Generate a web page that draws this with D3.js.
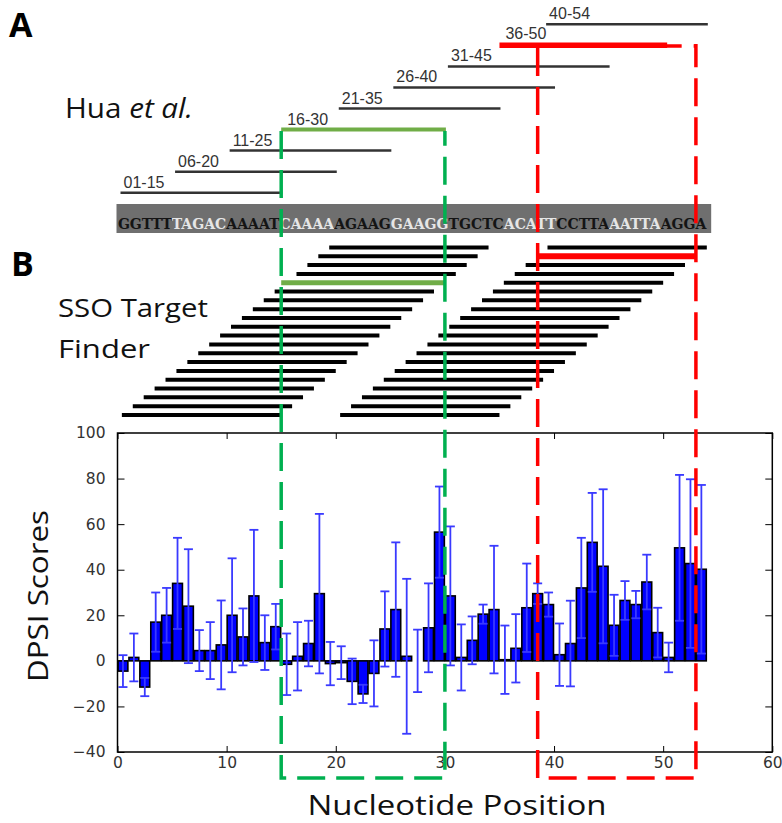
<!DOCTYPE html>
<html>
<head>
<meta charset="utf-8">
<script src="https://cdn.jsdelivr.net/npm/d3@7/dist/d3.min.js"></script>
<style>
body { margin: 0; background: #fff; }
svg { display: block; }
</style>
</head>
<body>
<div id="chart-area"></div>
<script>
// ---- values ----
var sequence = "GGTTTTAGACAAAATCAAAAAGAAGGAAGGTGCTCACATTCCTTAAATTAAGGA";

// Hua et al. oligos (1-based nucleotide ranges)
var huaLabels = ["01-15", "06-20", "11-25", "16-30", "21-35", "26-40", "31-45", "36-50", "40-54"];
var huaStarts = [1, 6, 11, 16, 21, 26, 31, 36, 40];
var huaEnds = [15, 20, 25, 30, 35, 40, 45, 50, 54];

// SSO Target Finder 15-mers, start nucleotide of each line (bottom row first)
var ssoLeftStarts = [1, 2, 3, 4, 5, 6, 7, 8, 9, 10, 11, 12, 13, 14, 15, 16, 17, 18, 19, 20];
var ssoRightStarts = [21, 22, 23, 24, 25, 26, 27, 28, 29, 30, 31, 32, 33, 34, 35, 36, 37, 38, 39, 40];
var ssoLength = 15;

// highlighted windows (nucleotide axis)
var greenBox = [15, 30];
var redBox = [38.5, 53];

// DPSI scores per position, with error bars
var dpsi = [-4.5, 1.5, -11.5, 17, 20, 34, 24, 4.5, 4.5, 7,
            20, 10.5, 28.5, 8, 15, -1.5, 2, 7.6, 29.5, -1.2,
            -0.8, -9, -14.5, -5.5, 14, 22.5, 2, 0, 14.5, 56.5,
            28.5, 1.5, 9, 20.5, 22.5, 0.5, 5.5, 23.3, 29.5, 24.7,
            2.7, 7.6, 32, 52, 41.5, 15.6, 26.5, 24.7, 34.6, 12.4,
            1.5, 49.6, 42.7, 40.2];
var dpsiErr = [7, 10.5, 4, 13, 12, 20, 25, 9, 12.5, 19.5,
               25, 12.5, 29, 12, 10, 13.5, 15, 10, 35, 9.5,
               7.2, 10, 4, 14.5, 16.5, 29.5, 34, 13.7, 19.5, 20,
               30.5, 14.5, 10.5, 4.2, 28, 15, 15, 19.4, 4.5, 5.3,
               13.7, 18.8, 22, 21.7, 33.8, 13.4, 8.5, 6, 12, 10.9,
               6.5, 32, 37, 37];

var xTicks = [0, 10, 20, 30, 40, 50, 60];
var yTicks = [-40, -20, 0, 20, 40, 60, 80, 100];

// ---- layout ----
var svg = d3.select("#chart-area")
    .append("svg")
        .attr("width", 782)
        .attr("height", 823);

// one nucleotide scale shared by panel A, the SSO lines and the bar chart
var x = d3.scaleLinear()
    .domain([0, 60])
    .range([117.5, 772.3]);
var y = d3.scaleLinear()
    .domain([-40, 100])
    .range([752, 433]);

var sans = "'Open Sans', 'Noto Sans', sans-serif";

// panel letters
svg.append("text").attr("x", 9).attr("y", 37)
    .attr("font-family", sans).attr("font-weight", "bold").attr("font-size", "34px")
    .text("A");
svg.append("text").attr("x", 11).attr("y", 276)
    .attr("font-family", sans).attr("font-weight", "bold").attr("font-size", "34px")
    .text("B");

// side labels
var hua = svg.append("text").attr("x", 65).attr("y", 118)
    .attr("font-family", sans).attr("font-size", "27px").attr("fill", "#111")
    .attr("textLength", 128).attr("lengthAdjust", "spacingAndGlyphs");
hua.append("tspan").text("Hua ");
hua.append("tspan").attr("font-style", "italic").text("et al.");

svg.append("text").attr("x", 58).attr("y", 317)
    .attr("font-family", sans).attr("font-size", "26px").attr("fill", "#111")
    .attr("textLength", 150).attr("lengthAdjust", "spacingAndGlyphs")
    .text("SSO Target");
svg.append("text").attr("x", 58).attr("y", 358)
    .attr("font-family", sans).attr("font-size", "26px").attr("fill", "#111")
    .attr("textLength", 92).attr("lengthAdjust", "spacingAndGlyphs")
    .text("Finder");

// sequence strip
svg.append("rect")
    .attr("x", x(0) - 1)
    .attr("y", 204)
    .attr("width", x(54.4) - x(0) + 1)
    .attr("height", 29)
    .attr("fill", "#6f6f6f");

// whole sequence as one text, squeezed so each letter sits in its nucleotide cell;
// 5-nt groups alternate dark / light
var groups = [];
for (var s = 0; s < sequence.length; s += 5) groups.push(sequence.slice(s, s + 5));
var seqText = svg.append("text")
    .attr("x", x(0) + 0.4)
    .attr("y", 228.5)
    .attr("font-family", "'DejaVu Serif', serif")
    .attr("font-weight", "bold")
    .attr("font-size", "15px")
    .attr("textLength", x(sequence.length) - x(0) - 0.8)
    .attr("lengthAdjust", "spacingAndGlyphs");
seqText.selectAll("tspan")
    .data(groups)
    .enter()
    .append("tspan")
        .attr("fill", function(d, i){ return i % 2 ? "#e6e6e6" : "#141414"; })
        .text(function(d){ return d; });

// Hua et al. oligo lines
var huaRow = function(k){ return 192.7 - k * 21.05; };
var huaColor = function(label){
    if (label == "16-30") return "#70ad47";
    if (label == "36-50") return "#ff0000";
    return "#333";
};
var huaG = svg.append("g");
huaLabels.forEach(function(label, k){
    var hl = huaColor(label) != "#333";
    huaG.append("line")
        .attr("x1", x(huaStarts[k] - 1) + (hl ? 0 : 3))
        .attr("x2", x(huaEnds[k]) + (label == "36-50" ? 4 : 1))
        .attr("y1", huaRow(k))
        .attr("y2", huaRow(k))
        .attr("stroke", huaColor(label))
        .attr("stroke-width", label == "36-50" ? 5.5 : (hl ? 4 : 2.5));
    huaG.append("text")
        .attr("x", x(huaStarts[k] - 1) + 6)
        .attr("y", huaRow(k) - (label == "36-50" ? 6 : 5))
        .attr("font-family", "'Liberation Sans', Arial, sans-serif")
        .attr("font-size", "16px")
        .attr("fill", "#333")
        .text(label);
});

// SSO Target Finder lines
var ssoRow = function(k){ return 415 - k * 8.82; };
var ssoG = svg.append("g");
[ssoLeftStarts, ssoRightStarts].forEach(function(starts){
    starts.forEach(function(s, k){
        if (s == 16 || s == 39) return;
        ssoG.append("line")
            .attr("x1", x(s - 1 + 0.4))
            .attr("x2", x(s - 1 + ssoLength))
            .attr("y1", ssoRow(k))
            .attr("y2", ssoRow(k))
            .attr("stroke", "#000")
            .attr("stroke-width", 4);
    });
});
ssoG.append("line")
    .attr("x1", x(greenBox[0])).attr("x2", x(greenBox[1]))
    .attr("y1", ssoRow(ssoLeftStarts.indexOf(16))).attr("y2", ssoRow(ssoLeftStarts.indexOf(16)))
    .attr("stroke", "#70ad47").attr("stroke-width", 5);
ssoG.append("line")
    .attr("x1", x(redBox[0])).attr("x2", x(redBox[1]))
    .attr("y1", ssoRow(ssoRightStarts.indexOf(39))).attr("y2", ssoRow(ssoRightStarts.indexOf(39)))
    .attr("stroke", "#ff0000").attr("stroke-width", 6);

// ---- bar chart ----
var g = svg.append("g");

g.append("g")
    .attr("transform", "translate(0," + y(-40) + ")")
    .call(d3.axisBottom(x).tickValues(xTicks).tickSizeInner(-6).tickSizeOuter(0).tickPadding(5));
g.append("g")
    .attr("transform", "translate(0," + y(100) + ")")
    .call(d3.axisTop(x).tickValues(xTicks).tickSizeInner(-6).tickSizeOuter(0).tickFormat(""));
g.append("g")
    .attr("transform", "translate(" + x(0) + ",0)")
    .call(d3.axisLeft(y).tickValues(yTicks).tickSizeInner(-7).tickSizeOuter(0).tickPadding(12));
g.append("g")
    .attr("transform", "translate(" + x(60) + ",0)")
    .call(d3.axisRight(y).tickValues(yTicks).tickSizeInner(-7).tickSizeOuter(0).tickFormat(""));

g.selectAll(".domain").remove();
g.selectAll(".tick line").attr("stroke", "#000");
g.selectAll(".tick text")
    .attr("font-family", "'DejaVu Sans', sans-serif")
    .attr("font-size", "15.5px")
    .attr("fill", "#333");

g.selectAll(".bar")
    .data(dpsi)
    .enter()
    .append("rect")
        .attr("class", "bar")
        .attr("x", function(d, i){ return x(i + 0.05); })
        .attr("width", x(0.9) - x(0))
        .attr("y", function(d){ return y(Math.max(d, 0)); })
        .attr("height", function(d){ return Math.abs(y(d) - y(0)); })
        .attr("fill", "#0000ff")
        .attr("stroke", "#000")
        .attr("stroke-width", 1.6);

var eb = g.selectAll(".err")
    .data(dpsi)
    .enter()
    .append("g")
        .attr("class", "err")
        .attr("stroke", "#3a3aff")
        .attr("stroke-width", 1.8);
eb.append("line")
    .attr("x1", function(d, i){ return x(i + 0.5); })
    .attr("x2", function(d, i){ return x(i + 0.5); })
    .attr("y1", function(d, i){ return y(d - dpsiErr[i]); })
    .attr("y2", function(d, i){ return y(d + dpsiErr[i]); });
[-1, 1].forEach(function(sgn){
    eb.append("line")
        .attr("x1", function(d, i){ return x(i + 0.5) - 4.5; })
        .attr("x2", function(d, i){ return x(i + 0.5) + 4.5; })
        .attr("y1", function(d, i){ return y(d + sgn * dpsiErr[i]); })
        .attr("y2", function(d, i){ return y(d + sgn * dpsiErr[i]); });
});

g.append("rect")
    .attr("x", x(0))
    .attr("y", y(100))
    .attr("width", x(60) - x(0))
    .attr("height", y(-40) - y(100))
    .attr("fill", "none")
    .attr("stroke", "#000")
    .attr("stroke-width", 1.5);

g.append("text")
    .attr("transform", "translate(48,596) rotate(-90)")
    .attr("text-anchor", "middle")
    .attr("font-family", sans).attr("font-size", "28px").attr("fill", "#111")
    .attr("textLength", 172).attr("lengthAdjust", "spacingAndGlyphs")
    .text("DPSI Scores");
g.append("text")
    .attr("x", 457)
    .attr("y", 815)
    .attr("text-anchor", "middle")
    .attr("font-family", sans).attr("font-size", "27px").attr("fill", "#111")
    .attr("textLength", 299).attr("lengthAdjust", "spacingAndGlyphs")
    .text("Nucleotide Position");

// ---- dashed highlight boxes, on top of everything ----
var bottomY = 778;
svg.append("path")
    .attr("d", "M" + x(greenBox[0]) + ",131 V" + bottomY + " H" + x(greenBox[1]) + " V131")
    .attr("fill", "none")
    .attr("stroke", "#00b050")
    .attr("stroke-width", 3.5)
    .attr("stroke-dasharray", "28,11");
svg.append("path")
    .attr("d", "M" + x(redBox[0]) + ",46 H" + x(redBox[1]))
    .attr("fill", "none")
    .attr("stroke", "#ff0000")
    .attr("stroke-width", 3.5)
    .attr("stroke-dasharray", "27,12");
svg.append("path")
    .attr("d", "M" + x(redBox[0]) + ",48 V" + bottomY + " H" + x(redBox[1]) + " V44")
    .attr("fill", "none")
    .attr("stroke", "#ff0000")
    .attr("stroke-width", 3.5)
    .attr("stroke-dasharray", "28,11");
</script>
</body>
</html>
